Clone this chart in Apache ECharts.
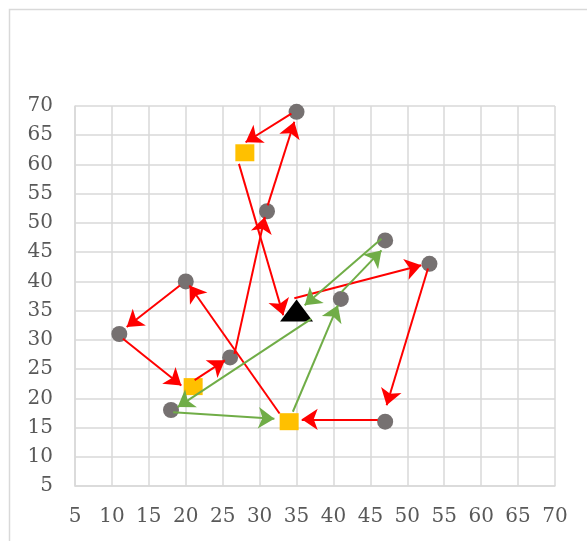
<!DOCTYPE html>
<html>
<head>
<meta charset="utf-8">
<script src="https://cdn.jsdelivr.net/npm/echarts@6/dist/echarts.min.js"></script>
<style>
  html, body { margin: 0; padding: 0; background: #fff; }
  #chart { width: 587px; height: 541px; }
</style>
</head>
<body>
<div id="chart"></div>
<script>
// points
const grayPoints = [
    [35, 69], [31, 52], [20, 40], [11, 31], [26, 27],
    [18, 18], [41, 37], [47, 47], [53, 43], [47, 16]
];
const yellowPoints = [[28, 62], [21, 22], [34, 16]];
const trianglePoints = [[35, 35]];

// arrows: [fromX, fromY, toX, toY] (tip at the "to" end)
const redArrows = [
    [46, 16.4, 35.7, 16.4],
    [32.7, 17.4, 20.5, 39.3],
    [19.2, 39.3, 12, 32.2],
    [11.5, 30.2, 19.4, 22.2],
    [21.2, 23.1, 25.3, 26.5],
    [26.6, 27.6, 30.7, 51],
    [31.1, 53, 34.7, 67.3],
    [34.3, 68.7, 28.1, 63.8],
    [27.2, 60.1, 33.2, 34.2],
    [34.7, 37.1, 51.9, 42.75],
    [52.8, 42.2, 47.2, 18.8]
];
const greenArrows = [
    [34.5, 17.7, 40.6, 35.9],
    [41.1, 38.2, 46.5, 45.3],
    [46.5, 47.3, 36.1, 35.9],
    [37, 33.6, 18.9, 18.5],
    [18.3, 17.6, 32, 16.5]
];

const gridColor = '#d9d9d9';
const labelFont = { color: '#595959', fontFamily: 'DejaVu Serif', fontSize: 20 };

function toLines(list) {
    return list.map(a => ({ coords: [[a[0], a[1]], [a[2], a[3]]] }));
}

function arrowSeries(list, color) {
    return {
        type: 'lines',
        coordinateSystem: 'cartesian2d',
        symbol: ['none', 'arrow'],
        symbolSize: 16,
        symbolOffset: [0, 8],
        lineStyle: { color: color, width: 2, opacity: 1, curveness: 0 },
        itemStyle: { color: color },
        z: 5,
        data: toLines(list)
    };
}

const axisCommon = {
    type: 'value',
    min: 5,
    max: 70,
    interval: 5,
    axisLine: { show: true, lineStyle: { color: gridColor, width: 1.5 } },
    axisTick: { show: false },
    splitLine: { show: true, lineStyle: { color: gridColor, width: 1.5 } }
};

const chart = echarts.init(document.getElementById('chart'));
chart.setOption({
    animation: false,
    graphic: [{
        type: 'rect',
        shape: { x: 9.5, y: 9.5, width: 700, height: 700 },
        style: { fill: 'none', stroke: gridColor, lineWidth: 1.5 },
        z: -10
    }],
    grid: { left: 75, right: 32, top: 106, bottom: 55 },
    xAxis: Object.assign({}, axisCommon, {
        axisLabel: Object.assign({ margin: 21 }, labelFont)
    }),
    yAxis: Object.assign({}, axisCommon, {
        axisLabel: Object.assign({ margin: 22 }, labelFont)
    }),
    series: [
        {
            type: 'scatter',
            symbol: 'circle',
            symbolSize: 16,
            itemStyle: { color: '#767171', opacity: 1 },
            z: 3,
            data: grayPoints
        },
        {
            type: 'scatter',
            symbol: 'rect',
            symbolSize: [19, 17],
            itemStyle: { color: '#ffc000', opacity: 1 },
            z: 3,
            data: yellowPoints
        },
        {
            type: 'scatter',
            symbol: 'triangle',
            symbolSize: [33, 22],
            itemStyle: { color: '#000000', opacity: 1 },
            z: 3,
            data: trianglePoints
        },
        arrowSeries(redArrows, '#ff0000'),
        arrowSeries(greenArrows, '#70ad47')
    ]
});
</script>
</body>
</html>
